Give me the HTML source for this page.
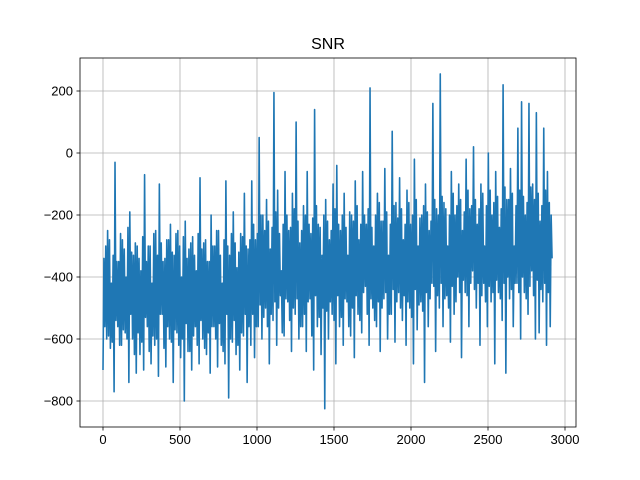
<!DOCTYPE html>
<html><head><meta charset="utf-8"><style>
body{margin:0;background:#fff;}
svg{display:block;font-family:"Liberation Sans","DejaVu Sans",sans-serif;}
</style></head><body>
<svg id="chart" width="640" height="480" viewBox="0 0 640 480"></svg>
<script>
const xTicks=[0,500,1000,1500,2000,2500,3000];
const yTicks=[-800,-600,-400,-200,0,200];
const xStep=6;
const snrValues=[
-700,-340,-560,-300,-600,-250,-590,-280,-630,-420,-610,-330,-770,-30,-540,-350,-560,-350,-620,-260,-620,-280,-570,-310,-580,-400,-600,-240,-740,-190,-520,-320,-600,-330,-650,-290,-710,-300,-580,-340,
-650,-380,-610,-270,-700,-70,-530,-350,-560,-300,-640,-300,-680,-420,-590,-260,-620,-250,-600,-330,-720,-100,-520,-290,-520,-350,-630,-340,-690,-280,-560,-280,-600,-230,-610,-320,-740,-330,-570,-260,
-580,-250,-620,-300,-660,-400,-600,-270,-800,-220,-550,-340,-640,-310,-640,-290,-700,-270,-590,-330,-560,-380,-620,-260,-680,-80,-540,-310,-600,-290,-630,-280,-650,-350,-580,-350,-710,-200,-560,-300,
-560,-300,-600,-250,-690,-250,-550,-330,-620,-420,-640,-280,-680,-90,-520,-300,-790,-330,-600,-260,-610,-190,-540,-290,-650,-370,-620,-320,-700,-260,-580,-270,-590,-130,-520,-300,-740,-310,-560,-280,
-620,-90,-520,-230,-660,-280,-560,-260,-560,50,-490,-200,-600,-200,-530,-250,-500,-150,-560,-220,-680,-310,-520,-240,-540,195,-480,-190,-620,-120,-500,-260,-460,-380,-580,-230,-590,-60,-470,-200,
-480,-250,-540,-240,-640,-130,-500,-180,-520,100,-470,-220,-600,-290,-560,-250,-560,-170,-520,-200,-640,-60,-480,-230,-470,-260,-590,-210,-700,140,-460,-170,-560,-230,-530,-240,-650,-330,-500,-200,
-825,-150,-510,-220,-600,-280,-480,-250,-520,-100,-540,-180,-680,-40,-460,-230,-560,-250,-530,-200,-620,-130,-470,-240,-480,-330,-560,-190,-590,-200,-500,-220,-660,-90,-460,-170,-520,-280,-540,-230,
-580,-60,-450,-200,-430,-230,-520,-180,-620,210,-470,-240,-500,-300,-540,-200,-560,-130,-480,-160,-640,-220,-500,-220,-470,-50,-450,-190,-600,-330,-520,-230,-520,70,-440,-170,-610,-160,-480,-210,
-450,-80,-500,-180,-540,-280,-460,-230,-620,-120,-480,-160,-500,-230,-530,-200,-680,-20,-440,-150,-570,-300,-490,-210,-480,-200,-510,-170,-740,-100,-450,-190,-560,-250,-470,-220,-420,160,-430,-150,
-640,-180,-460,-200,-500,255,-420,-140,-560,-160,-470,-180,-460,-300,-500,-200,-610,-60,-430,-130,-520,-200,-480,-170,-400,-100,-450,-150,-660,-250,-410,-190,-450,-20,-460,-120,-560,-180,-420,-170,
-380,20,-440,-150,-500,-230,-420,-180,-620,-100,-460,-130,-420,-300,-480,-170,-560,0,-430,-120,-480,-200,-450,-160,-680,-60,-410,-140,-450,-240,-470,-180,-540,220,-420,-110,-710,-150,-400,-150,
-470,-50,-440,-130,-560,-300,-420,-170,-420,80,-450,-120,-600,165,-400,-140,-450,-200,-470,-160,-520,160,-430,-110,-380,-100,-460,-150,-600,130,-410,-130,-580,-220,-440,-170,-480,80,-420,-120,
-620,-60,-450,-160,-560,-200,-340];
const NS="http://www.w3.org/2000/svg";
const svg=document.getElementById('chart');
const L=80,R=576,T=58,B=427;
function xs(v){return 103+v*0.154;}
function ys(v){return 153-v*0.31;}
function fmt(t){return t<0?'\u2212'+Math.abs(t):String(t);}
function mk(tag,attrs,parent){const e=document.createElementNS(NS,tag);for(const k in attrs)e.setAttribute(k,attrs[k]);(parent||svg).appendChild(e);return e;}
const grid=mk('g',{});


xTicks.forEach(t=>{const x=xs(t);
 const g=mk('line',{x1:x,x2:x,y1:T,y2:B,stroke:'#b0b0b0','stroke-width':0.8},grid);
 
 
 mk('line',{x1:x,x2:x,y1:B,y2:B+3.5,stroke:'#000','stroke-width':0.8});
 const tx=mk('text',{x:x,y:B+17,'font-size':13,'text-anchor':'middle',fill:'#000'});tx.textContent=fmt(t);
 
 
});
yTicks.forEach(t=>{const y=ys(t);
 const g=mk('line',{x1:L,x2:R,y1:y,y2:y,stroke:'#b0b0b0','stroke-width':0.8},grid);
 
 
 mk('line',{x1:L-3.5,x2:L,y1:y,y2:y,stroke:'#000','stroke-width':0.8});
 const tx=mk('text',{x:L-7,y:y+4.5,'font-size':13,'text-anchor':'end',fill:'#000'});tx.textContent=fmt(t);
 
 
});
const pts=snrValues.map((v,i)=>xs(i*xStep).toFixed(2)+','+ys(v).toFixed(2)).join(' ');
const line=mk('polyline',{points:pts,fill:'none',stroke:'#1f77b4','stroke-width':1.6,'stroke-linejoin':'round'});


const frame=mk('rect',{x:L,y:T,width:R-L,height:B-T,fill:'none',stroke:'#000','stroke-width':0.8});


const title=mk('text',{x:(L+R)/2,y:49,'font-size':16,'text-anchor':'middle',fill:'#000'});
title.textContent='SNR';


</script>
</body></html>
